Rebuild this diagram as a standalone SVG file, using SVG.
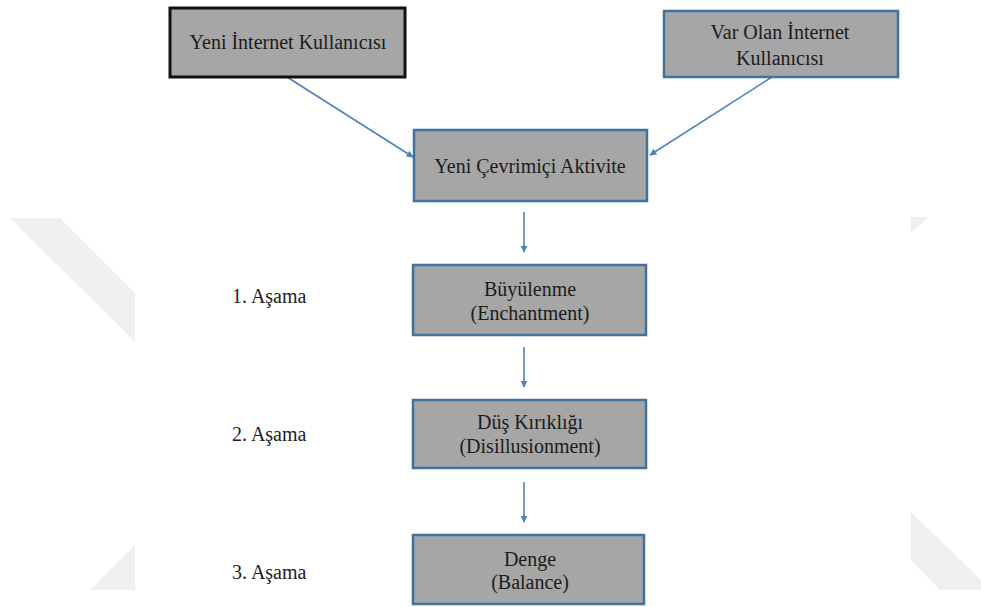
<svg xmlns="http://www.w3.org/2000/svg" width="981" height="607" viewBox="0 0 981 607">
<style>
.wm{fill:#efefef}
.box{fill:#a6a6a6;stroke:#41719c;stroke-width:2.5}
.box1{fill:#a6a6a6;stroke:#111;stroke-width:3}
text{font-family:"Liberation Serif","Times New Roman",serif;font-size:20px;fill:#1c1c1c}
.t{text-anchor:middle}
.c{stroke:#4f81bd;stroke-width:1.6;fill:none;marker-end:url(#ah)}
</style>
<defs>
<marker id="ah" viewBox="0 0 10 10" refX="9" refY="5" markerWidth="7" markerHeight="7" markerUnits="userSpaceOnUse" orient="auto">
<path d="M0,0 L10,5 L0,10 z" fill="#4f81bd"/>
</marker>
</defs>
<rect width="981" height="607" fill="#fff"/>
<g id="watermark">
<polygon class="wm" points="10,218 60,218 135,293 135,342"/>
<polygon class="wm" points="135,545 135,590 90,590"/>
<polygon class="wm" points="911,217 928,217 911,233"/>
<polygon class="wm" points="911,512 981,580 981,590 940,590 911,560"/>
</g>
<g id="connectors">
<line class="c" x1="287" y1="77" x2="413" y2="157"/>
<line class="c" x1="772" y1="77" x2="650" y2="155"/>
<line class="c" x1="524" y1="212" x2="524" y2="252"/>
<line class="c" x1="524" y1="347" x2="524" y2="387"/>
<line class="c" x1="524" y1="482" x2="524" y2="522"/>
</g>
<g id="yeni-internet">
<rect class="box1" x="170" y="8" width="235" height="69"/>
<text class="t" x="288" y="49">Yeni İnternet Kullanıcısı</text>
</g>
<g id="var-olan">
<rect class="box" x="664" y="11" width="234" height="66"/>
<text class="t" x="780" y="39">Var Olan İnternet</text>
<text class="t" x="780" y="65">Kullanıcısı</text>
</g>
<g id="aktivite">
<rect class="box" x="414" y="130" width="233" height="71"/>
<text class="t" x="530" y="173">Yeni Çevrimiçi Aktivite</text>
</g>
<g id="buyulenme">
<rect class="box" x="413" y="265" width="233" height="70"/>
<text class="t" x="530" y="296">Büyülenme</text>
<text class="t" x="530" y="320">(Enchantment)</text>
</g>
<g id="dus-kirikligi">
<rect class="box" x="413" y="400" width="233" height="68"/>
<text class="t" x="530" y="429">Düş Kırıklığı</text>
<text class="t" x="530" y="453">(Disillusionment)</text>
</g>
<g id="denge">
<rect class="box" x="413" y="535" width="231" height="69"/>
<text class="t" x="530" y="566">Denge</text>
<text class="t" x="530" y="589">(Balance)</text>
</g>
<g id="labels">
<text x="232" y="303">1. Aşama</text>
<text x="232" y="441">2. Aşama</text>
<text x="232" y="579">3. Aşama</text>
</g>
</svg>
